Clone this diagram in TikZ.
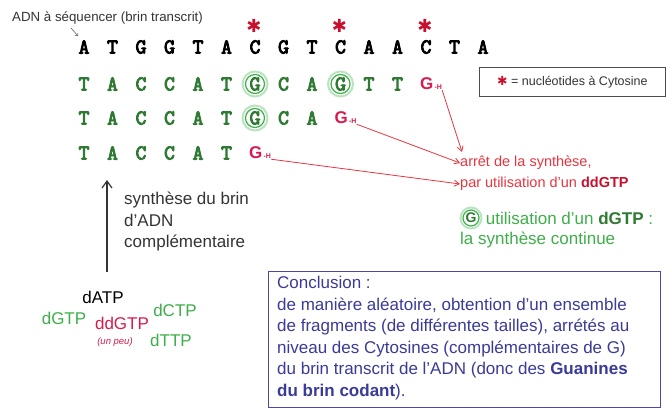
\documentclass[tikz,border=0pt]{standalone}
\usepackage{fontspec}
\setmainfont{Liberation Sans}
\newfontfamily\symfont{DejaVu Sans}
\usepackage{xcolor}
\usepackage{tikz}
\usetikzlibrary{arrows.meta}
\usetikzlibrary{positioning, calc}

\definecolor{brinvert}{HTML}{2F7A32}
\definecolor{clairvert}{HTML}{3DAE49}
\definecolor{rougeG}{HTML}{D81B4F}
\definecolor{rougetxt}{HTML}{E8343F}
\definecolor{rougefonce}{HTML}{C8102E}
\definecolor{violetbox}{HTML}{4A4A9C}
\definecolor{violettxt}{HTML}{3A3A98}

% lettres epaissies (contour + remplissage)
\newcommand{\gras}[1]{\special{pdf:literal direct 2 Tr 0.9 w}#1\special{pdf:literal direct 0 Tr}}

\begin{document}
\begin{tikzpicture}[x=1pt,y=-1pt,
    titre/.style={font=\fontsize{13.3}{15}\selectfont, text=black!80, inner sep=0pt},
    brin/.style={font=\ttfamily\fontsize{21}{21}\selectfont, inner sep=0pt},
    vert/.style={brin, text=brinvert},
    gh/.style={font=\bfseries\fontsize{17}{17}\selectfont, text=rougeG, inner sep=0pt, anchor=west},
    etoile/.style={font=\symfont\fontsize{18}{18}\selectfont, text=rougefonce, inner sep=0pt},
    cercle/.style={draw=clairvert, line width=1.2pt},
    halo/.style={draw=clairvert!35, line width=2pt},
    fleche/.style={draw=rougetxt, line width=0.8pt, -{Straight Barb[length=5pt,width=6pt]}},
    texte/.style={font=\fontsize{17}{21.5}\selectfont, inner sep=0pt, anchor=west, align=left}]
  \useasboundingbox (0,0) rectangle (672,407);

  % brin transcrit
  \node[titre, anchor=west] (titre) at (12,18) {ADN à séquencer (brin transcrit)};
  \foreach \b [count=\i from 0] in {A,T,G,G,T,A,C,G,T,C,A,A,C,T,A} {
    \node[brin] (t\i) at ({84+28.5*\i},47) {\gras{\b}};
  }
  \coordinate (pointe) at (78,36);
  \draw[black!70, line width=0.5pt, -{Straight Barb[length=2pt]}] (71,28) -- (pointe);
  % Cytosines
  \foreach \i in {6,9,12} {
    \node[etoile] (e\i) at ($(t\i)+(-1,-21)$) {✱};
  }

  % fragments
  \foreach \b [count=\i from 0] in {T,A,C,C,A,T,G,C,A,G,T,T} {
    \node[vert] (a\i) at ({84+28.5*\i},84) {\gras{\b}};
  }
  \foreach \b [count=\i from 0] in {T,A,C,C,A,T,G,C,A} {
    \node[vert] (b\i) at ({84+28.5*\i},118) {\gras{\b}};
  }
  \foreach \b [count=\i from 0] in {T,A,C,C,A,T} {
    \node[vert] (c\i) at ({84+28.5*\i},153) {\gras{\b}};
  }
  \foreach \n in {a6, a9, b6} {
    \draw[halo] (\n) circle(12.5);
    \draw[cercle] (\n) circle(9.5);
  }
  \node[gh] (h1) at ({84+28.5*12-6},84) {G{\fontsize{7}{7}\selectfont\,-H}};
  \node[gh] (h2) at ({84+28.5*9-6},118) {G{\fontsize{7}{7}\selectfont\,-H}};
  \node[gh] (h3) at ({84+28.5*6-6},153) {G{\fontsize{7}{7}\selectfont\,-H}};

  % legende
  \node[draw=black!70, line width=0.8pt, anchor=north west, minimum width=186, minimum height=29,
        font=\fontsize{12.5}{14}\selectfont, text=black!80] (legende) at (479,67)
        {{\symfont\color{rougefonce}✱} = nucléotides à Cytosine};

  % arret
  \node[texte, text=rougetxt, font=\fontsize{14.5}{16}\selectfont] (arret) at (460,163) {arrêt de la synthèse,};
  \node[texte, text=rougetxt, font=\fontsize{14.5}{16}\selectfont] (ddgtp) at (460,184)
        {par utilisation d'un {\bfseries\color{rougefonce}ddGTP}};
  \draw[fleche] (h1.south east) -- ($(arret.north west)+(2,-4)$);
  \draw[fleche] (h2.south east) -- (arret.west);
  \draw[fleche] (h3.south east) -- (ddgtp.west);

  % dGTP
  \node[font=\bfseries\fontsize{14}{14}\selectfont, text=brinvert, inner sep=0pt] (gcercle) at (471,218) {G};
  \draw[halo] (gcercle) circle(10.5);
  \draw[cercle] (gcercle) circle(8);
  \node[texte, text=clairvert, right=9pt of gcercle] (dgtp) {utilisation d'un {\bfseries\color{brinvert}dGTP} :};
  \node[texte, text=clairvert] (continue) at (460,240) {la synthèse continue};

  % synthese
  \coordinate (bas) at (107,272);
  \coordinate (haut) at (107,180);
  \draw[black!80, line width=1.2pt, -{Straight Barb[length=7pt,width=10pt]}] (bas) -- (haut);
  \node[texte, text=black!80] (synth) at (124,222)
        {synthèse du brin\\d'ADN\\complémentaire};

  % nucleotides
  \node[texte, anchor=center] (datp) at (103,297) {dATP};
  \node[texte, anchor=center, text=clairvert] (dgtp2) at (64,318) {dGTP};
  \node[texte, anchor=center, text=rougeG] (ddgtp2) at (122,323) {ddGTP};
  \node[texte, anchor=center, text=rougeG, font=\itshape\fontsize{9.5}{9.5}\selectfont] (peu) at (115,342) {(un peu)};
  \node[texte, anchor=center, text=clairvert] (dctp) at (175,310) {dCTP};
  \node[texte, anchor=center, text=clairvert] (dttp) at (171,340) {dTTP};

  % conclusion
  \node[draw=violetbox, line width=0.9pt, anchor=north west, minimum width=392, minimum height=136,
        inner sep=0pt] (concl) at (268,271) {};
  \node[anchor=north west, inner sep=0pt, text=violettxt, align=left,
        font=\fontsize{17}{21.5}\selectfont] (texteconcl) at (277,276)
        {Conclusion :\\
         de manière aléatoire, obtention d'un ensemble\\
         de fragments (de différentes tailles), arrétés au\\
         niveau des Cytosines (complémentaires de G)\\
         du brin transcrit de l'ADN (donc des {\bfseries Guanines}\\
         {\bfseries du brin codant}).};
\end{tikzpicture}
\end{document}
